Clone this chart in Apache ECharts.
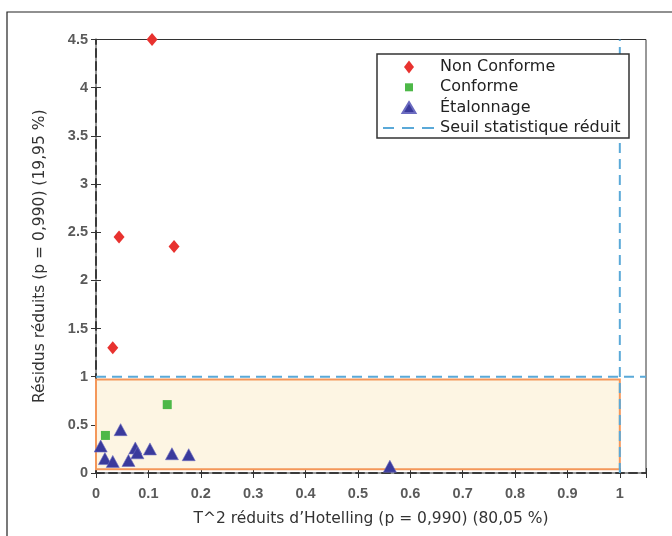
<!DOCTYPE html>
<html>
<head>
<meta charset="utf-8">
<script src="https://cdn.jsdelivr.net/npm/echarts@6/dist/echarts.min.js"></script>
<style>html,body{margin:0;padding:0;background:#fff}#c{width:672px;height:536px}</style>
</head>
<body>
<div id="c"></div>
<script>
// ---- data ----
const nonConformeX = [0.107, 0.044, 0.149, 0.032];
const nonConformeY = [4.50, 2.45, 2.35, 1.30];
const conformeX = [0.136, 0.018];
const conformeY = [0.71, 0.39];
const etalonnageX = [0.009, 0.047, 0.017, 0.032, 0.062, 0.075, 0.079, 0.103, 0.145, 0.177, 0.561];
const etalonnageY = [0.28, 0.45, 0.15, 0.12, 0.13, 0.26, 0.21, 0.25, 0.20, 0.19, 0.07];
const seuilX = 1;          // T^2 threshold
const seuilY = 1;          // residual threshold
const zoneX = [0, 1];      // acceptance zone
const zoneY = [0.04, 0.97];
const xMin = 0, xMax = 1.05, xInterval = 0.1;
const yMin = 0, yMax = 4.5, yInterval = 0.5;
const seriesNames = ['Non Conforme', 'Conforme', 'Étalonnage', 'Seuil statistique réduit'];
const xTitle = 'T^2 réduits d’Hotelling (p = 0,990) (80,05 %)';
const yTitle = 'Résidus réduits (p = 0,990) (19,95 %)';

const pts = (xs, ys) => xs.map((x, i) => [x, ys[i]]);
const FONT = 'DejaVu Sans';
const blue = '#5aa9d8';

const chart = echarts.init(document.getElementById('c'), null, {renderer: 'canvas'});

const baseX = {type: 'value', min: xMin, max: xMax, interval: xInterval};
const baseY = {type: 'value', min: yMin, max: yMax, interval: yInterval};
const isMult = (v, step) => Math.abs(v / step - Math.round(v / step)) < 1e-6;

chart.setOption({
  animation: false,
  grid: {left: 96, top: 39.5, right: 26, bottom: 63, show: true, borderColor: '#333', borderWidth: 1, backgroundColor: 'transparent'},
  xAxis: [
    Object.assign({}, baseX, {
      position: 'bottom',
      name: xTitle, nameLocation: 'middle', nameGap: 38,
      nameTextStyle: {fontFamily: FONT, fontSize: 15.5, color: '#333'},
      axisLine: {show: true, onZero: false, lineStyle: {color: '#3a3a3a', width: 2, type: [8, 5]}},
      axisTick: {show: true, inside: true, length: 5, lineStyle: {color: '#333'}},
      axisLabel: {margin: 13, fontFamily: 'Liberation Sans', fontSize: 14.5, fontWeight: 'bold', color: '#5a5a5a',
        formatter: v => isMult(v, xInterval) ? String(Math.round(v * 10) / 10) : ''},
      splitLine: {show: false}
    }),
    Object.assign({}, baseX, {
      position: 'top',
      axisLine: {show: false},
      axisTick: {show: true, inside: true, length: 5, lineStyle: {color: '#333'}},
      axisLabel: {show: false},
      splitLine: {show: false}
    })
  ],
  yAxis: [
    Object.assign({}, baseY, {
      position: 'left',
      name: yTitle, nameLocation: 'middle', nameGap: 48, nameRotate: 90,
      nameTextStyle: {fontFamily: FONT, fontSize: 15.5, color: '#333'},
      axisLine: {show: true, onZero: false, lineStyle: {color: '#3a3a3a', width: 2, type: [8, 5]}},
      axisTick: {show: true, inside: true, length: 5, lineStyle: {color: '#333'}},
      axisLabel: {margin: 8, fontFamily: 'Liberation Sans', fontSize: 14.5, fontWeight: 'bold', color: '#5a5a5a'},
      splitLine: {show: false}
    }),
    Object.assign({}, baseY, {
      position: 'right',
      axisLine: {show: false},
      axisTick: {show: true, inside: true, length: 5, lineStyle: {color: '#333'}},
      axisLabel: {show: false},
      splitLine: {show: false}
    })
  ],
  legend: {
    orient: 'vertical', left: 382, top: 59, z: 20,
    itemWidth: 52, itemHeight: 14, itemGap: 4.3, padding: 0,
    textStyle: {fontFamily: FONT, fontSize: 16, color: '#222', lineHeight: 16},
    data: [
      {name: seriesNames[0], icon: 'path://M0,0M52,14M26,0.5L31,7L26,13.5L21,7Z'},
      {name: seriesNames[1], icon: 'path://M0,0M52,14M22,3L30,3L30,11L22,11Z'},
      {name: seriesNames[2], icon: 'path://M0,0M52,14M26,1.5L32.5,12.5L19.5,12.5Z'},
      {name: seriesNames[3],
        icon: 'path://M0,0M52,14M0,6L11,6L11,8L0,8ZM19,6L31,6L31,8L19,8ZM39,6L51,6L51,8L39,8Z',
        itemStyle: {color: blue, borderWidth: 0}}
    ]
  },
  graphic: [
    {type: 'rect', z: 100, silent: true, shape: {x: 7, y: 12, width: 720, height: 600},
      style: {fill: 'none', stroke: '#222', lineWidth: 1.2}},
    {type: 'rect', z: 10, silent: true, shape: {x: 377, y: 54, width: 252, height: 84},
      style: {fill: '#fff', stroke: '#333', lineWidth: 1.5}}
  ],
  series: [
    {
      name: seriesNames[3], type: 'line', symbol: 'none', silent: true, z: 3,
      lineStyle: {color: blue, width: 2, type: [10, 6]},
      itemStyle: {color: blue},
      data: [[xMin, seuilY], [xMax, seuilY]],
      markArea: {
        silent: true,
        itemStyle: {color: '#fdf5e3', borderColor: '#f4975a', borderWidth: 2},
        data: [[{coord: [zoneX[0], zoneY[0]]}, {coord: [zoneX[1], zoneY[1]]}]]
      }
    },
    {
      name: seriesNames[3], type: 'line', symbol: 'none', silent: true, z: 3,
      lineStyle: {color: blue, width: 2, type: [10, 6]},
      itemStyle: {color: blue},
      data: [[seuilX, yMin], [seuilX, yMax]]
    },
    {
      name: seriesNames[0], type: 'scatter', symbol: 'diamond', symbolSize: [11, 13], z: 5,
      itemStyle: {color: '#e8322f', opacity: 1},
      data: pts(nonConformeX, nonConformeY)
    },
    {
      name: seriesNames[1], type: 'scatter', symbol: 'rect', symbolSize: 9, z: 5,
      itemStyle: {color: '#4db848', opacity: 1},
      data: pts(conformeX, conformeY)
    },
    {
      name: seriesNames[2], type: 'scatter', symbol: 'triangle', symbolSize: [13, 12], z: 5,
      itemStyle: {color: '#3a3a9c', borderColor: '#6b6bc0', borderWidth: 0.6, opacity: 1},
      data: pts(etalonnageX, etalonnageY)
    }
  ]
});
</script>
</body>
</html>
